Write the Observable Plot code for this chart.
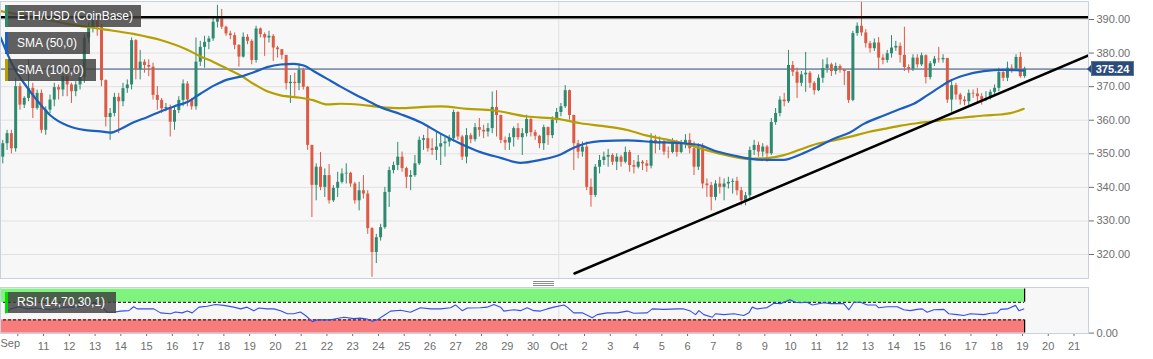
<!DOCTYPE html>
<html><head><meta charset="utf-8">
<script src="https://cdn.jsdelivr.net/npm/d3@7"></script>
<script src="https://cdn.jsdelivr.net/npm/@observablehq/plot@0.6"></script>
<style>
body{margin:0;background:#fff;font-family:Arial,"Liberation Sans",sans-serif;}
#wrap{position:relative;width:1153px;height:359px;overflow:hidden;background:#fff;}
#main,#rsi{position:absolute;left:0;}
#main{top:0}
#rsi{top:282px}
.lg{position:absolute;left:5px;height:22px;background:rgba(62,62,62,0.82);color:#fff;font-size:12px;line-height:22px;padding-left:12px;box-sizing:border-box;white-space:nowrap;}
.lg span{position:absolute;left:0;top:0;width:3px;height:100%;}
#price{position:absolute;left:1091px;width:43px;height:15px;background:#2b4b7b;color:#fff;font-weight:bold;font-size:11px;line-height:15px;text-align:center;border:1px solid #5a76a0;box-sizing:border-box;}
#price::before{content:"";position:absolute;left:-5px;top:3px;border-top:4px solid transparent;border-bottom:4px solid transparent;border-right:4px solid #2b4b7b;}
#handle{position:absolute;left:533px;top:281px;width:21px;height:5px;background:repeating-linear-gradient(#8c8c8c 0 1px,transparent 1px 2px);}
</style>
</head><body>
<div id="wrap">
  <div id="main"></div>
  <div id="rsi"></div>
  <div class="lg" style="top:5px;width:136px"><span style="background:#2e8a6f"></span>ETH/USD (CoinBase)</div>
  <div class="lg" style="top:32px;width:85px"><span style="background:#1c5fbf"></span>SMA (50,0)</div>
  <div class="lg" style="top:59px;width:91px"><span style="background:#b5a000"></span>SMA (100,0)</div>
  <div class="lg" style="top:292px;width:111px;height:21px;line-height:21px"><span style="background:#00e000"></span>RSI (14,70,30,1)</div>
  <div id="handle"></div>
  <div id="price"></div>
</div>
<script>
// ---- data (4-hour candles, ETH/USD) ----
const firstOpen = 341;
const firstCandleDay = -0.75;      // days since Sep 10 00:00 (candle centre)
const candleStepDays = 1 / 6;      // 4 hours
const closes = [
349,353,356,351.5,370,364.5,366.5,369.5,363.5,368,
357,363,366,369.7,369,373,370.5,368.5,370.5,372.7,
384.5,387.6,389.7,387.6,371.8,360.8,362,366.8,365.5,369.4,
370.5,383.7,375,377.3,376.3,375.8,367.4,365.9,363.4,363.8,
359.4,362.9,365.9,370.8,366,364,377.3,381.7,383.2,384.2,
389.2,390.2,387.7,385.7,385.2,382.3,378.8,384.7,383.5,377.8,
387.2,385.5,384.5,385,381.5,381,379.3,370.9,371.3,370.9,
374.8,369.8,352.5,340.6,346,340,343.5,336,339.7,341.5,
344,344.2,341,336,339,338,327.7,320.6,325,328,
338.5,345,346.5,349,345.6,343,343.5,347,354,354.5,
351.5,351,352,353,353.5,354.5,362.3,355,349,355.4,
354.2,357.8,357,356.5,357.5,363.8,361.4,354,353.2,354.8,
357.5,354.8,356,360.2,356.3,355.2,353,357.8,355.4,360,
362.3,364,368.8,361.4,353,350.5,352,340,337.6,346,
348,349,349.5,347.5,349,347.5,350.4,346.5,346,347.5,
347,346.3,354,353,353.5,350.5,350.4,353.5,350.4,353,
354,351.5,346,352,341,340.5,337,341,340,341,
341.5,341.8,339,336,337.5,351,352.5,350.5,352,350,
359.3,362,366,365.5,376.3,374.3,371,373.5,374,371,
368.8,372.5,375.4,376.5,374.5,376,375,374.5,365.9,385.8,
388,386,382.8,381.3,383,378.5,377.8,379.8,381.5,382,
379.3,375.7,375.2,378.5,376.5,379.2,372.7,376.8,378.2,378,
378.4,366,370.3,367.5,366,365.5,368,367.8,367,366,
366.5,368.3,369.5,374.2,372.5,375.5,375,378.7,373,375.24
];
const highs = [
350,354,357,357,372.5,371,367,378,371,369,
369,364,367.5,371,370.5,374,374,371,371.5,374,
385.5,389,391.5,390.5,388.5,372,363.5,368,368,371,
372,384.5,384,380.8,378,378,377,370,366.5,365,
364.5,364,367,372,371.5,366.5,384.5,383.5,385,385,
390.5,394.2,393,388,386.5,386,382.5,386,385.5,384,
388,387.5,386,386.5,385.5,382,381,379,373.3,374,
376.6,375.5,370,352,347,350.4,345.5,346.8,340.5,344.5,
345.5,347,344.5,341.5,341.5,343.5,339,328,326,329,
340,346,347.5,353.4,350.5,346,345,349.5,355,355.5,
357.8,354.5,356.4,356,355,355.5,363,362.5,355.5,357.5,
356,359,360.5,358.5,359,368.4,368.8,361.5,355,356,
358,359,357.5,361.5,360.5,357,355.5,358.5,358,361,
363.5,365,370.3,369,361.5,354,353.5,353.5,342.5,346.8,
349.5,350.5,351.3,350,350,349.5,352,351,348,349.5,
348,348,356,355.5,355,354,352,354.5,354,354,
355.7,356,353.5,353,353,342.5,341.5,342,343,342.5,
343,342.5,343,340,338.5,352,354,353.5,353,352.5,
360.5,363.5,367,368,380.8,377.5,375.5,374.5,380.2,374.5,
371.5,373.5,378,378.5,377,377,376.5,374.8,374.5,386.5,
389,395.2,387,383.5,384.2,384.6,379.5,380.8,385.2,383.5,
383,387.7,376.5,379.5,379.5,380,379.5,377.5,379,381.7,
379.5,378.4,371.5,371,368,367,369,369,369.5,367.9,
368.5,369,370.5,375.5,375,377.3,376.5,379.5,380.2,375.8
];
const lows = [
339,347,351,350,350.5,363,363.5,365.5,360.5,363,
356,355.5,362,364,366,367,367,365,367,369,
371,383,386,385,370,358,354,361,356,364,
368,369,372,372,374,373,366,363,362,362.5,
355,357,362,364,364,363,363,376,375.5,381,
383.5,387.5,387,385,384,381,375.8,378.5,382.5,376.5,
377,384.5,379,383,377.5,378.5,378,369,365,366.5,
368.8,369,351,331,336,339,337,335,335.5,337,
341,341,340,335,333,336.5,326,313.2,317.3,324,
327.5,334,344,345,344.5,339.6,339,343,346.5,351,
350.5,349.5,348,346.5,349,352,353.5,354,348,347,
353,353.5,355,354.5,355,356,355,353,351,351,
352,354,349.5,355,355,354,351.5,351,352.5,354.5,
359,361,363.5,360,345,348.5,349,339,334.1,337,
344,346.5,346,346.5,345,346,347,344.5,344,345.5,
345,344.5,345.5,350,351,349.5,348.5,350,349,350,
351.5,350,343.5,345,339.5,337,333,336,338,336,
339.5,338,337.5,334.5,334.5,336.5,349.5,349,349,347.5,
349.5,358.5,361,364,365,373,366.5,370,368.3,369.5,
367.5,368.5,371,374,373,373.5,374,370.3,365,365.5,
385,385,381.5,380,380.5,374.8,376.5,377,378.5,380.5,
377,374.5,374,374.5,375.5,376,370.8,372,376,377,
377,365,362.4,366,364.5,364.3,364,366.5,365,364.5,
365.5,366,367.5,368.5,371.5,371.5,374,374.5,372.5,372.5
];
const sma50Days = [-0.67,-0.16,0.36,0.75,1.27,1.92,2.56,3.21,3.6,3.99,4.5,5.02,5.54,6.06,6.58,7.09,7.61,8.13,8.65,9.16,9.68,10.2,10.71,11.1,11.49,12.01,12.53,13.04,13.56,14.08,14.86,15.63,16.41,17.19,17.96,18.74,19.51,20.29,21.07,21.58,22.1,22.62,23.66,24.69,25.73,26.5,27.02,27.79,28.44,29.09,29.74,30.38,31.03,31.68,32.32,32.84,33.62,34.27,34.78,35.3,35.82,36.21,36.72,37.5,38.28,39.05];
const sma50Values = [384.7,375.8,369.8,365.9,361.4,358.4,357.1,356.7,356.3,357.4,359.4,360.9,362.6,364.1,365.4,367.9,370.3,372.1,373,374.3,375.8,376.6,376.8,376.3,374.6,372.3,370,367.9,365.9,363.9,361.8,359.4,356,353,350.5,348.8,347.3,348.2,349.8,351.8,353.2,353.8,354,353.5,353.2,352.5,351,349.5,348.5,348.2,348.2,349.8,352,354.5,356.4,358.9,361.4,363.4,364.9,367.4,370,371.8,373.3,374.6,375,374.8];
const sma100Days = [-0.67,0.62,1.92,3.21,4.5,5.54,6.58,7.09,7.61,8.13,8.65,9.16,9.68,10.2,10.97,11.49,12.01,12.53,13.3,14.08,14.86,15.63,16.41,17.45,18.48,19.77,20.94,21.84,22.88,23.66,24.43,25.21,25.99,26.76,27.54,28.31,29.09,29.74,30.38,31.03,31.68,32.32,32.98,33.62,34.27,34.91,35.56,36.21,36.86,37.5,38.15,38.54,39.05];
const sma100Values = [392.5,390.7,388.7,387.2,385.7,383.9,381,379,377.3,375.3,373.3,370.8,368.6,367.4,366.7,365.9,364.7,364.9,364.6,363.9,363.6,363.9,364.1,363.4,362.9,361.1,360.4,359.1,358.1,357.1,355.4,354.2,352.8,351,349.5,348.5,348.7,349.6,351.3,353,354,355.1,356.4,357.4,358.4,359.1,359.7,360.4,360.9,361.4,361.7,362.1,363.4];
const rsiDays = [-0.48,-0.28,0.04,0.36,0.75,1.01,1.27,1.59,1.92,2.31,2.56,2.82,3.08,3.28,3.47,3.73,3.99,4.31,4.5,4.63,4.89,5.28,5.54,5.93,6.12,6.38,6.58,6.77,7.03,7.35,7.67,8.0,8.38,8.65,8.9,9.16,9.36,9.68,9.94,10.2,10.46,10.71,10.97,11.17,11.43,11.62,11.88,12.14,12.4,12.66,13.04,13.3,13.56,13.76,13.95,14.21,14.47,14.86,15.24,15.63,16.02,16.41,16.8,16.99,17.25,17.45,17.96,18.22,18.48,18.74,18.87,19.26,19.51,19.77,20.03,20.29,20.55,20.81,21.2,21.33,21.58,21.91,22.3,22.49,22.88,23.27,23.66,23.91,24.43,24.63,25.08,25.6,25.85,26.11,26.31,26.44,26.63,26.96,27.08,27.41,27.8,28.18,28.38,28.51,28.7,29.09,29.35,29.61,29.97,30.19,30.38,30.64,30.84,31.29,31.55,32.06,32.26,32.46,32.71,32.98,33.3,33.42,33.75,34.14,34.39,34.65,34.91,35.11,35.3,35.56,35.95,36.14,36.47,36.72,36.98,37.5,37.76,38.02,38.15,38.41,38.73,38.86,39.05];
const rsiValues = [46,55,60,55,57,55,53,57,59,59,62,67,68,59,47.5,47.5,50,51,60,55,55,55,46,44,48,46,50,46,59,61,65,63,59,55,59,51,57,55,55,51,44,44,48,40,26,30,30,30,33,36,33,34,32,27,30,40,50,52,47.5,57.5,55,55,57.5,64,51,57,57.5,59,65,59,50,53,51,57.5,51,50,55,59,64,59,46,46,35,42,46,46,50,45,46,55,54,55,55,50,42,51,42,36,44,42,44,40,46,59,55,58,68,67,76,70,69,70,64,69,67,67,53,70,70,64,64,57.5,60,60,53,51,54,55,47.5,53,54,44,42,40,44,42,45,46,54,55,63,51,55];
const priceTicks = [320,330,340,350,360,370,380,390];
const dayTickLabels = ["Sep","11","12","13","14","15","16","17","18","19","20","21","22","23","24","25","26","27","28","29","30","Oct","2","3","4","5","6","7","8","9","10","11","12","13","14","15","16","17","18","19","20","21"];
const monthStartDay = 21;          // Oct 1
const resistance = 390.7;
const lastPrice = 375.24;
const trendDays = [21.61, 41.56];
const trendPrices = [314.34, 379.28];
const rsiOverbought = 70, rsiOversold = 30;

// ---- build ----
const G = "#2e8a6f", R = "#dd5a45";
const candles = closes.map((c, i) => {
  const o = i === 0 ? firstOpen : closes[i - 1];
  return {day: firstCandleDay + i * candleStepDays, o, c,
          h: Math.max(highs[i], o, c), l: Math.min(lows[i], o, c), up: c >= o};
});
const lastDay = candles[candles.length - 1].day;
const sma50 = sma50Days.map((d, i) => ({day: d, v: sma50Values[i]}));
const sma100 = sma100Days.map((d, i) => ({day: d, v: sma100Values[i]}));
const rsi = rsiDays.map((d, i) => ({day: d, v: rsiValues[i]}));
const trend = trendDays.map((d, i) => ({day: d, v: trendPrices[i]}));
const xOpt = {domain: [0, 41], range: [17.3, 1073.5], axis: null};
const font = {fontFamily: "Arial, 'Liberation Sans', sans-serif", fontSize: "11px", background: "transparent", overflow: "visible"};

const main = Plot.plot({
  width: 1153, height: 282,
  marginTop: 1, marginBottom: 4, marginLeft: 0, marginRight: 65,
  x: xOpt,
  y: {domain: [320, 390], range: [254, 19], axis: null},
  style: font,
  marks: [
    Plot.frame({fill: "#f7f7f7", stroke: null}),
    Plot.gridY(priceTicks, {stroke: "#e1e1e1", strokeOpacity: 1}),
    Plot.ruleX([monthStartDay], {stroke: "#e1e1e1"}),
    Plot.axisY(priceTicks, {anchor: "right", tickFormat: d => d.toFixed(2), tickSize: 5, tickPadding: 3, color: "#6e6e6e", fontSize: 11}),
    Plot.ruleY([lastPrice], {stroke: "#2d4a76", strokeWidth: 1}),
    Plot.ruleX(candles, {x: "day", y1: "l", y2: "h", stroke: d => d.up ? G : R, strokeWidth: 1, clip: true}),
    Plot.ruleX(candles, {x: "day", y1: "o", y2: "c", stroke: d => d.up ? G : R, strokeWidth: 3, clip: true}),
    Plot.line(sma100, {x: "day", y: "v", stroke: "#b5a000", strokeWidth: 2.2, curve: "monotone-x", clip: true}),
    Plot.line(sma50, {x: "day", y: "v", stroke: "#1c5fbf", strokeWidth: 2.2, curve: "monotone-x", clip: true}),
    Plot.ruleY([resistance], {stroke: "#000", strokeWidth: 2.5}),
    Plot.line(trend, {x: "day", y: "v", stroke: "#000", strokeWidth: 2.5, clip: true}),
    Plot.frame({stroke: "#c9d0e0"})
  ]
});
document.getElementById("main").appendChild(main);

const rsiPlot = Plot.plot({
  width: 1153, height: 77,
  marginTop: 5, marginBottom: 26, marginLeft: 0, marginRight: 65,
  x: xOpt,
  y: {domain: [0, 100], range: [50.6, 6.6], axis: null},
  style: font,
  marks: [
    Plot.frame({fill: "#f7f7f7", stroke: null}),
    Plot.ruleX([monthStartDay], {stroke: "#e1e1e1"}),
    Plot.rect([{x1: firstCandleDay, x2: lastDay, y1: rsiOverbought, y2: 100}], {x1: "x1", x2: "x2", y1: "y1", y2: "y2", fill: "#7ef47e", clip: true}),
    Plot.rect([{x1: firstCandleDay, x2: lastDay, y1: 0, y2: rsiOversold}], {x1: "x1", x2: "x2", y1: "y1", y2: "y2", fill: "#f87c7c", clip: true}),
    Plot.ruleY([rsiOverbought, rsiOversold], {x1: firstCandleDay, x2: lastDay, stroke: "#000", strokeDasharray: "3,2", strokeWidth: 1, clip: true}),
    Plot.ruleX([lastDay], {y1: rsiOverbought, y2: 100, stroke: "#000", strokeWidth: 1.2}),
    Plot.ruleX([lastDay], {y1: 0, y2: rsiOversold, stroke: "#000", strokeWidth: 1.2}),
    Plot.line(rsi, {x: "day", y: "v", stroke: "#3350e6", strokeWidth: 1.1, clip: true}),
    Plot.axisY([0], {anchor: "right", tickFormat: d => d.toFixed(2), tickSize: 5, tickPadding: 3, color: "#6e6e6e", fontSize: 11}),
    Plot.axisX(d3.range(1, dayTickLabels.length), {tickFormat: d => dayTickLabels[d], tickSize: 3, tickPadding: 6, color: "#6e6e6e", fontSize: 11}),
    Plot.axisX([0], {tickFormat: () => "", tickSize: 3, color: "#6e6e6e"}),
    Plot.text([dayTickLabels[0]], {frameAnchor: "bottom-left", dy: 13, textAnchor: "start", fill: "#6e6e6e", fontSize: 11}),
    Plot.frame({stroke: "#c9d0e0"})
  ]
});
document.getElementById("rsi").appendChild(rsiPlot);

const py = main.scale("y").apply(lastPrice);
const pe = document.getElementById("price");
pe.style.top = (py - 7.5) + "px";
pe.textContent = lastPrice.toFixed(2);
</script>
</body></html>
